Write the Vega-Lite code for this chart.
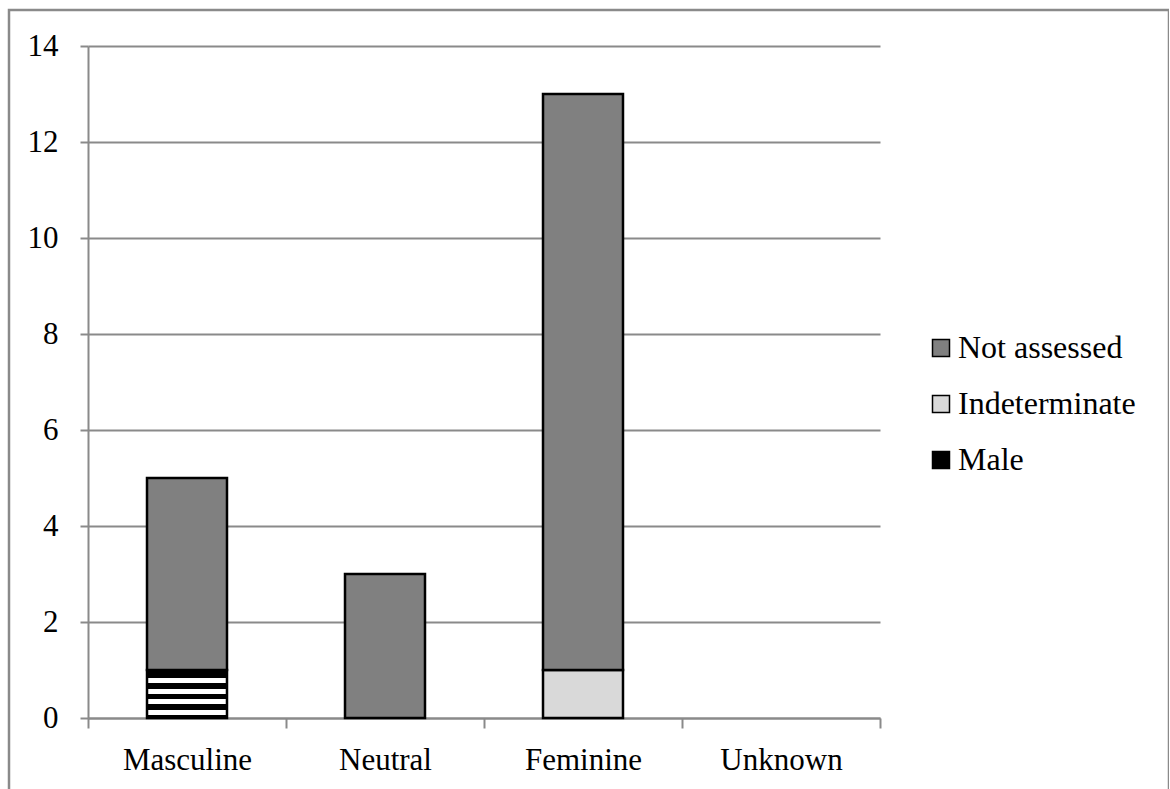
{
  "$schema": "https://vega.github.io/schema/vega-lite/v6.json",
  "autosize": "none",
  "padding": {"left": 9, "top": 10, "right": 0, "bottom": 0},
  "width": 1160,
  "height": 790,
  "background": "white",
  "config": {
    "view": {"stroke": "#8a8a8a", "strokeWidth": 2.5},
    "font": "Liberation Serif",
    "axis": {
      "labelFont": "Liberation Serif",
      "labelFontSize": 31,
      "labelColor": "black",
      "domainColor": "#8a8a8a",
      "domainWidth": 2,
      "tickColor": "#8a8a8a",
      "tickWidth": 2,
      "gridColor": "#8a8a8a",
      "gridWidth": 2,
      "title": null
    },
    "legend": {
      "labelFont": "Liberation Serif",
      "labelFontSize": 32,
      "labelColor": "black",
      "labelLimit": 400
    }
  },
  "data": {
    "values": [
      {"category": "Masculine", "status": "Male", "count": 1},
      {"category": "Masculine", "status": "Not assessed", "count": 4},
      {"category": "Neutral", "status": "Not assessed", "count": 3},
      {"category": "Feminine", "status": "Indeterminate", "count": 1},
      {"category": "Feminine", "status": "Not assessed", "count": 12}
    ]
  },
  "mark": {"type": "bar", "stroke": "black", "strokeWidth": 2.5, "width": {"band": 0.404}},
  "encoding": {
    "x": {
      "field": "category",
      "type": "nominal",
      "sort": null,
      "scale": {
        "domain": ["Masculine", "Neutral", "Feminine", "Unknown"],
        "range": [79, 871],
        "paddingInner": 0,
        "paddingOuter": 0
      },
      "axis": {
        "orient": "bottom",
        "offset": -82,
        "labelAngle": 0,
        "tickBand": "extent",
        "tickSize": 10,
        "labelPadding": 17,
        "grid": false
      }
    },
    "y": {
      "field": "count",
      "type": "quantitative",
      "stack": "zero",
      "scale": {"domain": [0, 14], "range": [708, 36], "nice": false},
      "axis": {
        "orient": "left",
        "offset": -79,
        "values": [0, 2, 4, 6, 8, 10, 12, 14],
        "tickSize": 8,
        "labelPadding": 22,
        "grid": true
      }
    },
    "order": {"field": "status", "sort": "ascending"},
    "color": {
      "condition": {
        "test": "datum.status === 'Male'",
        "value": {
          "gradient": "linear",
          "x1": 0, "y1": 0, "x2": 0, "y2": 1,
          "stops": [
            {"offset": 0, "color": "black"},
            {"offset": 0.17, "color": "black"},
            {"offset": 0.17, "color": "white"},
            {"offset": 0.27, "color": "white"},
            {"offset": 0.27, "color": "black"},
            {"offset": 0.39, "color": "black"},
            {"offset": 0.39, "color": "white"},
            {"offset": 0.49, "color": "white"},
            {"offset": 0.49, "color": "black"},
            {"offset": 0.61, "color": "black"},
            {"offset": 0.61, "color": "white"},
            {"offset": 0.71, "color": "white"},
            {"offset": 0.71, "color": "black"},
            {"offset": 0.83, "color": "black"},
            {"offset": 0.83, "color": "white"},
            {"offset": 0.93, "color": "white"},
            {"offset": 0.93, "color": "black"},
            {"offset": 1, "color": "black"}
          ]
        }
      },
      "field": "status",
      "type": "nominal",
      "scale": {
        "domain": ["Not assessed", "Indeterminate", "Male"],
        "range": ["#808080", "#d9d9d9", "black"]
      },
      "legend": {
        "title": null,
        "orient": "none",
        "legendX": 916,
        "legendY": 322,
        "padding": 0,
        "symbolType": "square",
        "symbolSize": 289,
        "symbolStrokeColor": "black",
        "symbolStrokeWidth": 1.5,
        "symbolOpacity": 1,
        "labelOffset": 1,
        "labelLimit": 400,
        "rowPadding": 24,
        "encode": {
          "symbols": {
            "update": {
              "stroke": {"value": "black"},
              "strokeWidth": {"value": 1.5}
            }
          }
        }
      }
    }
  }
}
